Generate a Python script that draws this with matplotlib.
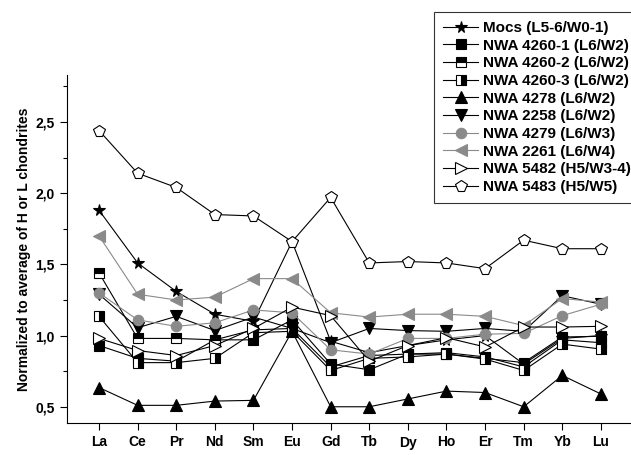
import matplotlib
matplotlib.use("Agg")
import matplotlib.pyplot as plt
from matplotlib.ticker import MultipleLocator

elements = ['La', 'Ce', 'Pr', 'Nd', 'Sm', 'Eu', 'Gd', 'Tb', 'Dy', 'Ho', 'Er', 'Tm', 'Yb', 'Lu']

mocs      = [1.88, 1.51, 1.31, 1.15, 1.10, 1.66, 0.96, 0.88, 0.93, 0.97, 1.00, 0.80, 0.98, 1.00]
nwa4260_1 = [0.93, 0.84, 0.82, 0.97, 0.97, 1.11, 0.80, 0.76, 0.87, 0.87, 0.84, 0.81, 0.99, 0.995]
nwa4260_2 = [1.44, 0.98, 0.98, 0.97, 1.04, 1.05, 0.78, 0.86, 0.87, 0.88, 0.85, 0.78, 0.97, 0.95]
nwa4260_3 = [1.135, 0.81, 0.81, 0.84, 1.02, 1.03, 0.755, 0.84, 0.85, 0.87, 0.835, 0.755, 0.94, 0.905]
nwa4278   = [0.635, 0.51, 0.51, 0.54, 0.545, 1.03, 0.50, 0.50, 0.555, 0.61, 0.60, 0.50, 0.72, 0.59]
nwa2258   = [1.29, 1.055, 1.135, 1.035, 1.13, 1.05, 0.95, 1.05, 1.035, 1.03, 1.05, 1.03, 1.28, 1.22]
nwa4279   = [1.30, 1.11, 1.065, 1.09, 1.18, 1.16, 0.90, 0.87, 0.98, 0.98, 1.01, 1.015, 1.14, 1.22]
nwa2261   = [1.70, 1.29, 1.25, 1.27, 1.40, 1.40, 1.16, 1.13, 1.15, 1.15, 1.135, 1.07, 1.26, 1.235]
nwa5482   = [0.98, 0.895, 0.86, 0.93, 1.05, 1.20, 1.14, 0.82, 0.93, 0.985, 0.92, 1.06, 1.06, 1.065]
nwa5483   = [2.44, 2.14, 2.04, 1.85, 1.84, 1.66, 1.97, 1.51, 1.52, 1.51, 1.47, 1.67, 1.61, 1.61]

labels = ['Mocs (L5-6/W0-1)', 'NWA 4260-1 (L6/W2)', 'NWA 4260-2 (L6/W2)', 'NWA 4260-3 (L6/W2)',
          'NWA 4278 (L6/W2)', 'NWA 2258 (L6/W2)', 'NWA 4279 (L6/W3)', 'NWA 2261 (L6/W4)',
          'NWA 5482 (H5/W3-4)', 'NWA 5483 (H5/W5)']

yticks = [0.5, 1.0, 1.5, 2.0, 2.5]
yticklabels = ['0,5', '1,0', '1,5', '2,0', '2,5']

plt.rcParams['font.family'] = ['Liberation Sans', 'DejaVu Sans']
plt.rcParams['font.weight'] = 'bold'

fig = plt.figure(figsize=(6.31, 4.55), dpi=100)
ax = fig.add_axes([67/631, 32/455, (631-67)/631, (423-75)/455])

x = list(range(len(elements)))
gray = '#8a8a8a'
styles = [
    dict(marker='*', color='black', mfc='black', mec='black', ms=8.5),
    dict(marker='s', color='black', mfc='black', mec='black', ms=6.5),
    dict(marker='s', color='black', mfc='black', mec='black', ms=6.5, fillstyle='top', markerfacecoloralt='white'),
    dict(marker='s', color='black', mfc='black', mec='black', ms=6.5, fillstyle='right', markerfacecoloralt='white'),
    dict(marker='^', color='black', mfc='black', mec='black', ms=8),
    dict(marker='v', color='black', mfc='black', mec='black', ms=8),
    dict(marker='o', color=gray, mfc=gray, mec=gray, ms=7.5),
    dict(marker='<', color=gray, mfc=gray, mec=gray, ms=8.5),
    dict(marker='>', color='black', mfc='white', mec='black', ms=8.5),
    dict(marker='p', color='black', mfc='white', mec='black', ms=8.5),
]
series = [mocs, nwa4260_1, nwa4260_2, nwa4260_3, nwa4278, nwa2258, nwa4279, nwa2261, nwa5482, nwa5483]

handles = []
for s, st, lab in zip(series, styles, labels):
    h, = ax.plot(x, s, lw=0.8, mew=0.8, label=lab, clip_on=False, **st)
    handles.append(h)

ax.set_xlim(-0.83, 13.78)
ax.set_ylim(0.386, 2.83)
ax.set_xticks(x)
ax.set_xticklabels(elements, fontsize=10, fontweight='bold')
ax.set_yticks(yticks)
ax.set_yticklabels(yticklabels, fontsize=10, fontweight='bold')
ax.yaxis.set_minor_locator(MultipleLocator(0.25))
ax.tick_params(axis='x', which='major', direction='out', length=5, width=0.8, pad=4)
ax.tick_params(axis='y', which='major', direction='out', length=5, width=0.8, pad=4)
ax.tick_params(axis='y', which='minor', direction='out', length=3, width=0.8)
ax.spines['top'].set_visible(False)
ax.spines['right'].set_visible(False)
ax.set_ylabel('Normalized to average of H or L chondrites', fontsize=10, fontweight='bold', labelpad=3)

leg = fig.legend(handles=handles, loc='upper left', bbox_to_anchor=(434/631, 1 - 12/455),
                 fontsize=11, frameon=True, fancybox=False, edgecolor='black',
                 handlelength=2.3, handletextpad=0.3, labelspacing=0.24, borderpad=0.6,
                 borderaxespad=0)
leg.get_frame().set_linewidth(0.8)
for t in leg.get_texts():
    t.set_fontweight('bold')

fig.savefig('out.png', dpi=100)
